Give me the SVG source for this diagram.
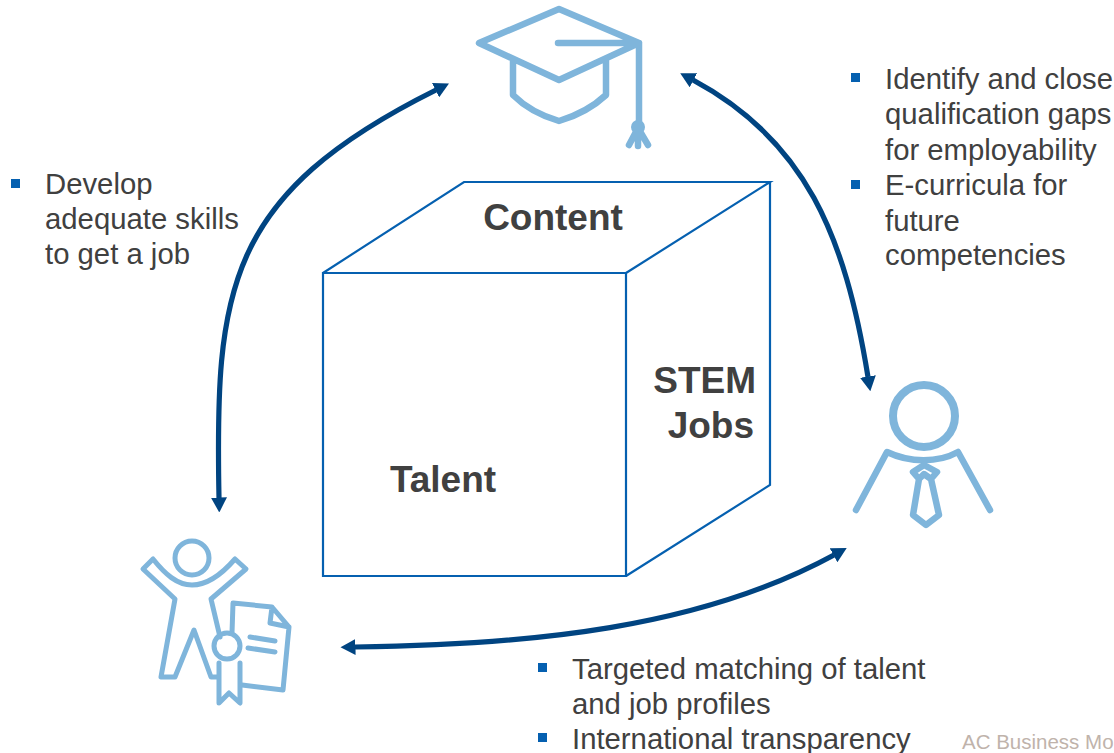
<svg xmlns="http://www.w3.org/2000/svg" width="1114" height="753" viewBox="0 0 1114 753">
<style>
text{font-family:"Liberation Sans",Arial,sans-serif;fill:#404040}
.t{font-size:29.3px}
.b{font-size:37px;font-weight:bold}
.i{fill:none;stroke:#7fb5db;stroke-width:6.5;stroke-linecap:round;stroke-linejoin:round}
.j{stroke-width:5}
.e{fill:none;stroke:#004481;stroke-width:5.2}
.c{fill:none;stroke:#0560b0;stroke-width:2.2;stroke-linejoin:miter}
.s{fill:#0560b0}
</style>
<defs>
<marker id="a" markerUnits="userSpaceOnUse" markerWidth="15" markerHeight="16" refX="0.5" refY="8" orient="auto-start-reverse" viewBox="0 0 15 16">
<path d="M0 0L15 8L0 16Z" fill="#004481"/>
</marker>
</defs>
<g id="connectors">
<path class="e" d="M219 498C215 290 225 195 436 90" marker-start="url(#a)" marker-end="url(#a)"/>
<path class="e" d="M693 80C805 140 845 235 868 377" marker-start="url(#a)" marker-end="url(#a)"/>
<path class="e" d="M355 647C530 645 700 628 834 555" marker-start="url(#a)" marker-end="url(#a)"/>
</g>
<g id="cube">
<path class="c" d="M323 273H626V576H323ZM323 273L464 182H770L626 273M770 182V485L626 576"/>
<text class="b" x="553" y="230" text-anchor="middle">Content</text>
<text class="b" x="443" y="492" text-anchor="middle">Talent</text>
<text class="b" x="756" y="393" text-anchor="end">STEM</text>
<text class="b" x="754" y="438" text-anchor="end">Jobs</text>
</g>
<g id="graduate">
<path class="i" d="M559 9L639 43L559 80L479 43ZM558 43H639V125M513 61V95C526 108 542 116 559 121C576 116 592 108 606 95V61"/>
<path class="i" d="M638 128L629 145M638 128V146M638 128L648 145"/>
<circle cx="638" cy="127" r="7" fill="#7fb5db"/>
</g>
<g id="employer">
<circle class="i" cx="924" cy="416" r="31" style="stroke-width:8"/>
<path class="i" d="M856 510L887 452C910 463 938 463 958 452L990 510"/>
<path class="i" d="M924 465L913 472L919 479L913 515L926 525L939 515L931 479L937 472ZM919 479L924 474L931 479"/>
</g>
<g id="talent">
<circle class="i j" cx="192" cy="558" r="17"/>
<path class="i j" d="M220 637L211 599L246 569L235 559C222 574 207 585 192 585C177 585 165 574 153 559L143 569L175 599L161 677H175L194 630L211 677H218"/>
<path class="i j" d="M232 633L233 603L272 607L289 627L283 690L242 685M272 607L270 623L289 627M250 637L275 641M248 648L275 652"/>
<circle class="i j" cx="227" cy="646" r="13"/>
<path class="i j" d="M219 663V703L229 693L240 703V663"/>
</g>
<g id="note-left">
<rect class="s" x="11" y="179" width="9" height="9"/>
<text class="t" x="45" y="194">Develop</text>
<text class="t" x="45" y="229">adequate skills</text>
<text class="t" x="45" y="264">to get a job</text>
</g>
<g id="note-right">
<rect class="s" x="851" y="73" width="9" height="9"/>
<text class="t" x="885" y="88.5">Identify and close</text>
<text class="t" x="885" y="124">qualification gaps</text>
<text class="t" x="885" y="159.5">for employability</text>
<rect class="s" x="851" y="180" width="9" height="9"/>
<text class="t" x="885" y="195">E-curricula for</text>
<text class="t" x="885" y="230.5">future</text>
<text class="t" x="885" y="265">competencies</text>
</g>
<g id="note-bottom">
<rect class="s" x="538" y="663" width="9" height="9"/>
<text class="t" x="572" y="678.5">Targeted matching of talent</text>
<text class="t" x="572" y="714">and job profiles</text>
<rect class="s" x="538" y="733" width="9" height="9"/>
<text class="t" x="572" y="748.5">International transparency</text>
</g>
<text x="962" y="749" font-size="20.5" style="fill:#bfb3ab">AC Business Mo</text>
</svg>
